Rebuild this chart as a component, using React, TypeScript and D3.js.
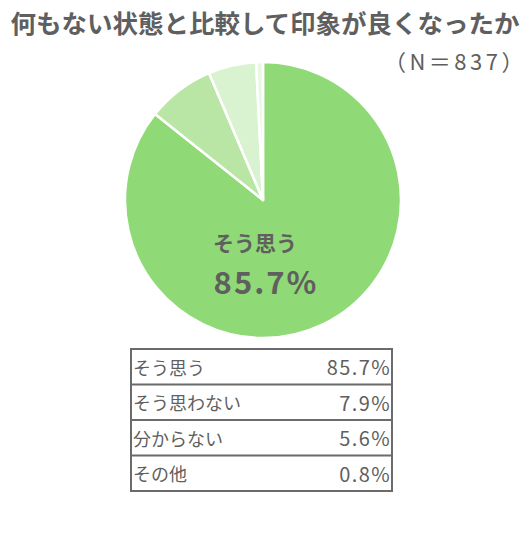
import React from "react";
import * as d3 from "d3";

const title = "何もない状態と比較して印象が良くなったか";
const sampleNote = "（N＝837）";
const categories = ["そう思う", "そう思わない", "分からない", "その他"];
const values = [85.7, 7.9, 5.6, 0.8];
const colors = ["#90d977", "#b9e6a5", "#d9f3d0", "#e9f8e4"];

const width = 530;
const height = 535;
const font = "'Noto Sans CJK JP', 'Noto Sans', sans-serif";
const textColor = "#5f5f5f";

const pieCenter = { x: 263, y: 200 };
const radius = 138;
const table = { left: 131, right: 392, top: 349, bottom: 491 };

export default function App() {
  const pie = d3
    .pie<number>()
    .sort(null)
    .value((d) => d);
  const arcs = pie(values);
  const arc = d3.arc<d3.PieArcDatum<number>>().innerRadius(0).outerRadius(radius);

  const y = d3
    .scaleBand<string>()
    .domain(categories)
    .range([table.top, table.bottom]);

  return (
    <div style={{ margin: -8 }}>
      <svg width={width} height={height} style={{ display: "block" }}>
        <rect width={width} height={height} fill="#fff" />
        <text
          x={width / 2}
          y={21}
          textAnchor="middle"
          dominantBaseline="central"
          fontFamily={font}
          fontWeight="bold"
          fontSize={25.5}
          fill={textColor}
        >
          {title}
        </text>
        <text
          x={527}
          y={60}
          textAnchor="end"
          dominantBaseline="central"
          fontFamily={font}
          fontSize={22}
          letterSpacing={3.5}
          fill={textColor}
        >
          {sampleNote}
        </text>

        <g transform={`translate(${pieCenter.x},${pieCenter.y})`}>
          {arcs.map((a, i) => (
            <path
              key={categories[i]}
              d={arc(a) || ""}
              fill={colors[i]}
              stroke="#fff"
              strokeWidth={2.5}
              strokeLinejoin="round"
            />
          ))}
          <text
            x={-8}
            y={42}
            textAnchor="middle"
            dominantBaseline="central"
            fontFamily={font}
            fontWeight="bold"
            fontSize={21}
            fill={textColor}
          >
            {categories[0]}
          </text>
          <text
            x={3}
            y={80}
            textAnchor="middle"
            dominantBaseline="central"
            fontFamily={font}
            fontWeight="bold"
            fontSize={31}
            letterSpacing={2}
            fill={textColor}
          >
            {`${values[0]}%`}
          </text>
        </g>

        <g>
          {categories.map((c, i) => {
            const y0 = y(c) || 0;
            const cy = y0 + y.bandwidth() / 2;
            return (
              <g key={c}>
                <text
                  x={table.left + 2}
                  y={cy}
                  dominantBaseline="central"
                  fontFamily={font}
                  fontSize={18}
                  fill={textColor}
                >
                  {c}
                </text>
                <text
                  x={table.right - 1}
                  y={cy}
                  textAnchor="end"
                  dominantBaseline="central"
                  fontFamily={font}
                  fontSize={20}
                  letterSpacing={1.4}
                  fill={textColor}
                >
                  {`${values[i]}%`}
                </text>
                {i > 0 && (
                  <line
                    x1={table.left}
                    x2={table.right}
                    y1={y0}
                    y2={y0}
                    stroke="#6b6b6b"
                    strokeWidth={2}
                  />
                )}
              </g>
            );
          })}
          <rect
            x={table.left}
            y={table.top}
            width={table.right - table.left}
            height={table.bottom - table.top}
            fill="none"
            stroke="#6b6b6b"
            strokeWidth={2}
          />
        </g>
      </svg>
    </div>
  );
}
